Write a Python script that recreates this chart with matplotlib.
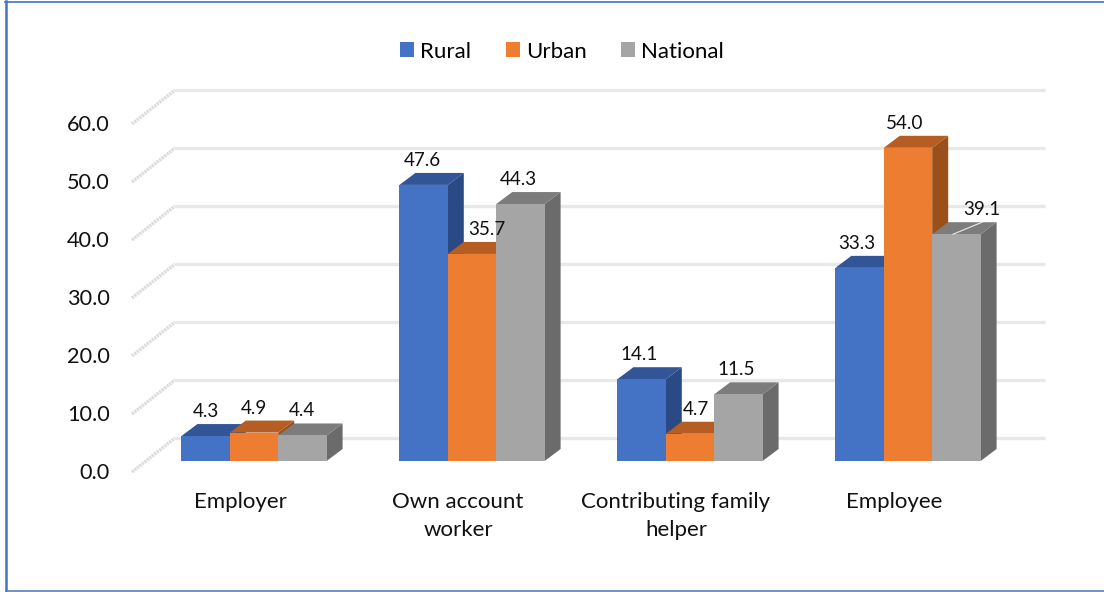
import numpy as np
import matplotlib
matplotlib.use("Agg")
import matplotlib.pyplot as plt
from matplotlib.patches import Patch

plt.rcParams['font.family'] = ['Lato', 'DejaVu Sans']

categories = ['Employer', 'Own account\nworker', 'Contributing family\nhelper', 'Employee']
series_names = ['Rural', 'Urban', 'National']
rural = [4.3, 47.6, 14.1, 33.3]
urban = [4.9, 35.7, 4.7, 54.0]
national = [4.4, 44.3, 11.5, 39.1]
y_ticks = [0, 10, 20, 30, 40, 50, 60]

front_colors = ['#4472c4', '#ed7d31', '#a5a5a5']
top_colors = ['#325597', '#b55d22', '#7c7c7c']
side_colors = ['#2a4a85', '#9c5019', '#6b6b6b']

# layout in pixels of the 1104x592 picture
W, H = 1104, 592
px_per_unit = 5.8
floor_px = 461
group_px = 218
first_px = 254
bar_px = 48.4
depth_x, depth_y = 16, 12

def xpx(p):
    return (p - first_px) / group_px

def ypx(p):
    return (floor_px - p) / px_per_unit

fig = plt.figure(figsize=(W / 100, H / 100), dpi=100)
ax = fig.add_axes([0, 0, 1, 1])
ax.set_xlim(xpx(0), xpx(W))
ax.set_ylim(ypx(H), ypx(0))
ax.axis('off')

dx = depth_x / group_px
dy = depth_y / px_per_unit
bw = bar_px / group_px

# back wall lines and the slanted bit on the left
wall_shift = (floor_px - 438) / px_per_unit
slant_shift = (472 - 438) / px_per_unit
for t in y_ticks:
    y = t + wall_shift
    ax.plot([xpx(175), xpx(1045)], [y, y], color='#e8e8e8', lw=2.4, zorder=1, solid_capstyle='butt')
    ax.plot([xpx(132), xpx(175)], [y - slant_shift, y], color='#dcdcdc', lw=2.4, zorder=1,
            dashes=(0.7, 0.25), solid_capstyle='butt')
    ax.text(xpx(110), y - slant_shift - 1 / px_per_unit, '%.1f' % t, ha='right', va='center', fontsize=15.6,
            color='#111111')

x = np.arange(len(categories))
all_values = [rural, urban, national]

z = 3
for g in x:
    for s, vals in enumerate(all_values):
        v = vals[g]
        left = g + (s - 1.5) * bw
        right = left + bw
        ax.fill([right, right + dx, right + dx, right], [0, dy, v + dy, v], color=side_colors[s], lw=0, zorder=z)
        ax.fill([left, left + dx, right + dx, right], [v, v + dy, v + dy, v], color=top_colors[s], lw=0, zorder=z)
        ax.bar(left, v, width=bw, align='edge', color=front_colors[s], lw=0, zorder=z + 1)
        z += 2

# data labels, nudged where the original moved them (pixels)
label_nudge = [[0, 0, 0, -3], [-1, 15, -2, 0], [-2, 6, -2, -3], [-3, -3, 25, 0]]
label_nudge = np.array(label_nudge).T.tolist()
for g in x:
    for s, vals in enumerate(all_values):
        v = vals[g]
        cx = g + (s - 1) * bw + label_nudge[s][g] / group_px
        ax.text(cx, v + 24.5 / px_per_unit, '%.1f' % v, ha='center', va='center', fontsize=13.6,
                color='#111111', zorder=200)

# leader line on the moved label
ax.plot([3 + bw * 0.93, 3 + bw * 1.53], [national[3], national[3] + dy], color='#e0e0e0', lw=0.9, zorder=150)

# category labels
for g, name in zip(x, categories):
    ax.text(g - 14 / group_px, ypx(492), name, ha='center', va='top', fontsize=16, color='#111111',
            linespacing=1.5)

handles = [Patch(facecolor=c, edgecolor='none', lw=0, label=n) for c, n in zip(front_colors, series_names)]
leg = ax.legend(handles=handles, ncol=3, frameon=False, fontsize=16, loc='center',
                bbox_to_anchor=(562 / W, 1 - 51.5 / H), bbox_transform=fig.transFigure,
                handlelength=0.63, handleheight=0.63, handletextpad=0.27, columnspacing=1.55)

# blue frame around the picture
ax.plot([xpx(6), xpx(6)], [ypx(1), ypx(590.5)], color='#4472c4', lw=1.8, zorder=300)
ax.plot([xpx(5), xpx(W)], [ypx(2.5), ypx(2.5)], color='#4472c4', lw=1.2, zorder=300)
ax.plot([xpx(6), xpx(W)], [ypx(590.5), ypx(590.5)], color='#5b7fb5', lw=1.2, zorder=300)

plt.savefig('out.png', dpi=100)
